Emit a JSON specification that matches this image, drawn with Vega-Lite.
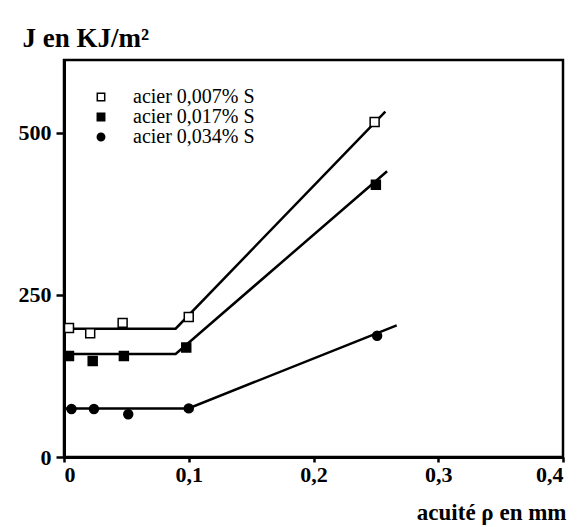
{
  "$schema": "https://vega.github.io/schema/vega-lite/v6.json",
  "width": 499,
  "height": 397,
  "autosize": {"type": "none"},
  "padding": {"left": 64, "top": 60, "right": 20, "bottom": 70},
  "background": "white",
  "config": {
    "view": {"stroke": "black", "strokeWidth": 2.5},
    "font": "Liberation Serif"
  },
  "datasets": {
    "points": [
      {"series": "acier  0,007% S", "x": 0.004, "y": 199},
      {"series": "acier  0,007% S", "x": 0.021, "y": 191},
      {"series": "acier  0,007% S", "x": 0.047, "y": 207},
      {"series": "acier  0,007% S", "x": 0.1, "y": 216},
      {"series": "acier  0,007% S", "x": 0.249, "y": 517},
      {"series": "acier  0,017% S", "x": 0.004, "y": 156},
      {"series": "acier  0,017% S", "x": 0.023, "y": 148},
      {"series": "acier  0,017% S", "x": 0.048, "y": 156},
      {"series": "acier  0,017% S", "x": 0.098, "y": 169},
      {"series": "acier  0,017% S", "x": 0.25, "y": 420},
      {"series": "acier  0,034% S", "x": 0.006, "y": 74},
      {"series": "acier  0,034% S", "x": 0.024, "y": 74},
      {"series": "acier  0,034% S", "x": 0.0515, "y": 66},
      {"series": "acier  0,034% S", "x": 0.1, "y": 75},
      {"series": "acier  0,034% S", "x": 0.251, "y": 187}
    ],
    "fits": [
      {"series": "acier  0,007% S", "x": 0.0, "y": 198},
      {"series": "acier  0,007% S", "x": 0.0895, "y": 198},
      {"series": "acier  0,007% S", "x": 0.2576, "y": 533},
      {"series": "acier  0,017% S", "x": 0.0, "y": 159},
      {"series": "acier  0,017% S", "x": 0.0895, "y": 159},
      {"series": "acier  0,017% S", "x": 0.259, "y": 441},
      {"series": "acier  0,034% S", "x": 0.0, "y": 75},
      {"series": "acier  0,034% S", "x": 0.0997, "y": 75},
      {"series": "acier  0,034% S", "x": 0.2667, "y": 203}
    ]
  },
  "layer": [
    {
      "data": {"name": "fits"},
      "mark": {"type": "line", "color": "black", "strokeWidth": 2.5},
      "encoding": {
        "x": {
          "field": "x", "type": "quantitative",
          "scale": {"domain": [0, 0.4], "nice": false, "zero": false},
          "axis": {
            "values": [0, 0.1, 0.2, 0.3, 0.4],
            "labelExpr": "replace(datum.label, '.', ',')",
            "format": "~g",
            "grid": false,
            "domainColor": "black", "domainWidth": 3,
            "tickColor": "black", "tickWidth": 2.5, "tickSize": 5,
            "labelFont": "Liberation Serif", "labelFontSize": 22, "labelFontWeight": "bold",
            "labelColor": "black", "labelPadding": 2,
            "title": "acuité ρ  en mm",
            "titleFont": "Liberation Serif", "titleFontSize": 23, "titleFontWeight": "bold",
            "titleColor": "black",
            "titleAnchor": "end", "titleAlign": "right", "titleBaseline": "alphabetic",
            "titleX": 502, "titleY": 62
          }
        },
        "y": {
          "field": "y", "type": "quantitative",
          "scale": {"domain": [0, 612.6], "nice": false},
          "axis": {
            "values": [0, 250, 500],
            "grid": false,
            "domainColor": "black", "domainWidth": 3,
            "tickColor": "black", "tickWidth": 2.5, "tickSize": 8,
            "labelFont": "Liberation Serif", "labelFontSize": 22, "labelFontWeight": "bold",
            "labelColor": "black", "labelPadding": 5,
            "title": "J  en KJ/m²",
            "titleFont": "Liberation Serif", "titleFontSize": 27, "titleFontWeight": "bold",
            "titleColor": "black",
            "titleAngle": 0, "titleAlign": "left", "titleBaseline": "alphabetic",
            "titleX": -42, "titleY": -14
          }
        },
        "detail": {"field": "series", "type": "nominal"}
      }
    },
    {
      "data": {"name": "points"},
      "mark": {"type": "point", "stroke": "black", "strokeWidth": 1.5, "opacity": 1, "size": 80},
      "encoding": {
        "x": {"field": "x", "type": "quantitative"},
        "y": {"field": "y", "type": "quantitative"},
        "shape": {
          "field": "series", "type": "nominal",
          "scale": {"domain": ["acier  0,007% S", "acier  0,017% S", "acier  0,034% S"], "range": ["square", "square", "circle"]},
          "legend": {
            "title": null, "orient": "top-left", "offset": 27,
            "labelFont": "Liberation Serif", "labelFontSize": 20, "labelColor": "black",
            "labelOffset": 22, "rowPadding": -1, "symbolSize": 55,
            "encode": {"symbols": {"update": {"stroke": {"value": "black"}, "strokeWidth": {"value": 1.5}}}}
          }
        },
        "fill": {
          "field": "series", "type": "nominal",
          "scale": {"domain": ["acier  0,007% S", "acier  0,017% S", "acier  0,034% S"], "range": ["white", "black", "black"]},
          "legend": {
            "title": null, "orient": "top-left", "offset": 27,
            "labelFont": "Liberation Serif", "labelFontSize": 20, "labelColor": "black",
            "labelOffset": 22, "rowPadding": -1, "symbolSize": 55,
            "encode": {"symbols": {"update": {"stroke": {"value": "black"}, "strokeWidth": {"value": 1.5}}}}
          }
        }
      }
    }
  ]
}
